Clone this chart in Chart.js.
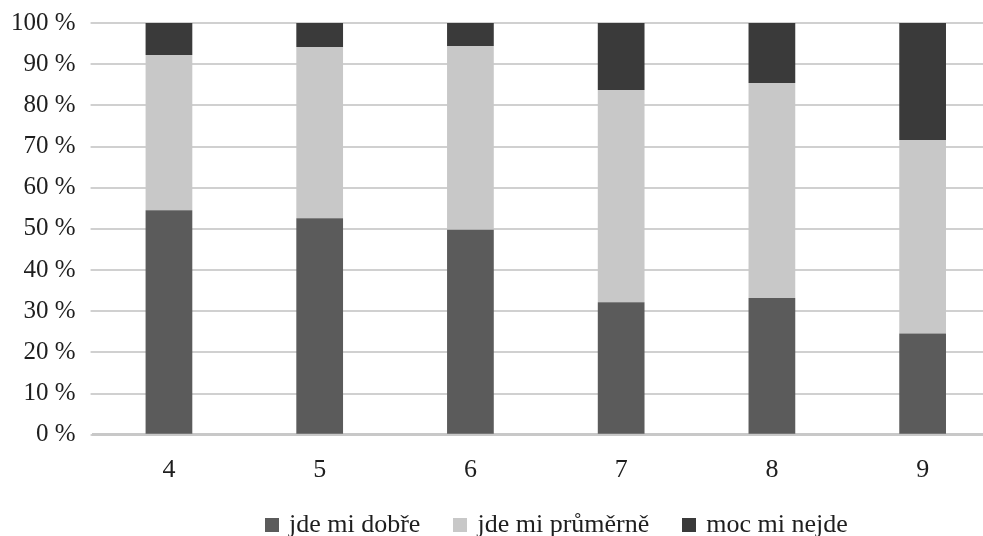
<!DOCTYPE html>
<html>
<head>
<meta charset="utf-8">
<script src="https://cdn.jsdelivr.net/npm/chart.js@4/dist/chart.umd.min.js"></script>
<style>
  html, body { margin: 0; padding: 0; background: #fff; overflow: hidden; }
  #wrap { width: 998px; height: 536px; position: relative; }
  #legend {
    position: absolute; left: 265px; top: 509px;
    white-space: nowrap;
    font-family: "Liberation Serif", "Times New Roman", serif;
    font-size: 26px; line-height: 30px; color: #1e1e1e;
  }
  #legend .item { display: inline-block; margin-right: 33px; }
  #legend .box { display: inline-block; width: 14px; height: 14px; margin-right: 10px; vertical-align: baseline; }
</style>
</head>
<body>
<div id="wrap"><canvas id="c"></canvas></div>
<div id="legend"></div>
<script>
const categories = ['4', '5', '6', '7', '8', '9'];
const seriesNames = ['jde mi dobře', 'jde mi průměrně', 'moc mi nejde'];
const jdeMiDobre = [54.5, 52.6, 49.8, 32.2, 33.2, 24.6];
const jdeMiPrumerne = [37.7, 41.6, 44.6, 51.5, 52.2, 47.0];
const mocMiNejde = [7.8, 5.8, 5.6, 16.3, 14.6, 28.4];
const yTicks = [0, 10, 20, 30, 40, 50, 60, 70, 80, 90, 100];

const colors = ['#5b5b5b', '#c8c8c8', '#3a3a3a'];
const FAMILY = '"Liberation Serif", "Times New Roman", serif';
Chart.defaults.font.family = FAMILY;
Chart.defaults.font.size = 25;
Chart.defaults.color = '#1e1e1e';

const chart = new Chart(document.getElementById('c'), {
  type: 'bar',
  data: {
    labels: categories,
    datasets: [
      { label: seriesNames[0], data: jdeMiDobre, backgroundColor: colors[0] },
      { label: seriesNames[1], data: jdeMiPrumerne, backgroundColor: colors[1] },
      { label: seriesNames[2], data: mocMiNejde, backgroundColor: colors[2] }
    ].map(d => Object.assign(d, { categoryPercentage: 1, barPercentage: 0.31 }))
  },
  options: {
    responsive: true,
    maintainAspectRatio: false,
    animation: false,
    layout: { padding: { top: 23, bottom: 38, left: 0, right: 0 } },
    plugins: {
      tooltip: { enabled: false },
      legend: { display: false }
    },
    scales: {
      x: {
        stacked: true,
        grid: { display: false },
        border: { display: true, color: '#c8c8c8', width: 3 },
        ticks: { font: { family: FAMILY, size: 26 }, padding: 12 }
      },
      y: {
        stacked: true,
        min: 0,
        max: 100,
        afterBuildTicks(scale) { scale.ticks = yTicks.map(v => ({ value: v })); },
        afterFit(scale) { scale.paddingTop = 0; scale.width -= 4; },
        grid: { color: '#d0d0d0', lineWidth: 2, tickLength: 3 },
        border: { display: false },
        ticks: { font: { family: FAMILY, size: 25 }, padding: 15, callback: v => v + ' %' }
      }
    }
  }
});

// HTML legend built from the chart's datasets
const legendEl = document.getElementById('legend');
chart.data.datasets.forEach(ds => {
  const item = document.createElement('span');
  item.className = 'item';
  const box = document.createElement('span');
  box.className = 'box';
  box.style.background = ds.backgroundColor;
  item.appendChild(box);
  item.appendChild(document.createTextNode(ds.label));
  legendEl.appendChild(item);
});
</script>
</body>
</html>
